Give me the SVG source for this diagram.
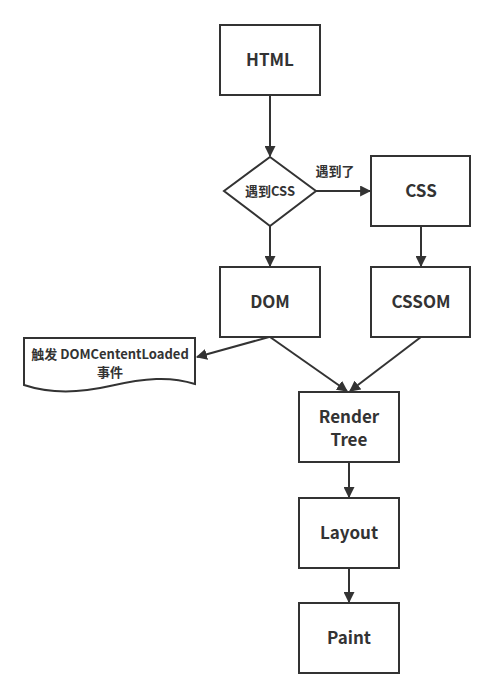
<svg xmlns="http://www.w3.org/2000/svg" width="496" height="698" viewBox="0 0 496 698">
<defs>
<marker id="arr" viewBox="0 0 10 10" refX="9" refY="5" markerWidth="5.5" markerHeight="5.5" orient="auto" markerUnits="strokeWidth">
<path d="M0,0 L10,5 L0,10 Z" fill="#333"/>
</marker>
<style>
.box{fill:#fff;stroke:#333;stroke-width:2}
.t{font-family:"Noto Sans CJK SC","Open Sans",sans-serif;font-weight:bold;fill:#333;text-anchor:middle;dominant-baseline:central}
.big{font-size:17px}
.sm{font-size:13px}
.c{fill:none;stroke:#333;stroke-width:2;marker-end:url(#arr)}
</style>
</defs>
<rect width="496" height="698" fill="#fff"/>
<g id="connectors">
<path class="c" d="M270,95 L270,156"/>
<path class="c" d="M316,191 L370,191"/>
<path class="c" d="M270,226 L270,266"/>
<path class="c" d="M421,226 L421,266"/>
<path class="c" d="M269,337 L197,357"/>
<path class="c" d="M270,337 L347,391"/>
<path class="c" d="M421,337 L350,391"/>
<path class="c" d="M349,462 L349,497"/>
<path class="c" d="M349,568 L349,602"/>
</g>
<text class="t sm" x="335" y="170">遇到了</text>
<g id="html"><rect class="box" x="220" y="25" width="100" height="70"/><text class="t big" x="270" y="58.5">HTML</text></g>
<g id="decision"><path class="box" d="M270,157 L316,191 L270,226 L224,191 Z"/><text class="t sm" x="270" y="190">遇到CSS</text></g>
<g id="css"><rect class="box" x="371" y="156" width="99" height="70"/><text class="t big" x="421" y="189.5">CSS</text></g>
<g id="dom"><rect class="box" x="220" y="267" width="100" height="70"/><text class="t big" x="270" y="300.5">DOM</text></g>
<g id="cssom"><rect class="box" x="371" y="267" width="99" height="70"/><text class="t big" x="421" y="300.5">CSSOM</text></g>
<g id="event"><path class="box" d="M24,338 L195,338 L195,384 C170,376 145,378 110,386 C75,394 45,392 24,385 Z"/><text class="t sm" x="110" y="353">触发 DOMCententLoaded</text><text class="t sm" x="110" y="371">事件</text></g>
<g id="render"><rect class="box" x="299" y="392" width="100" height="70"/><text class="t big" x="349" y="415">Render</text><text class="t big" x="349" y="438">Tree</text></g>
<g id="layout"><rect class="box" x="299" y="498" width="100" height="70"/><text class="t big" x="349" y="531.5">Layout</text></g>
<g id="paint"><rect class="box" x="299" y="603" width="100" height="70"/><text class="t big" x="349" y="636.5">Paint</text></g>
</svg>
